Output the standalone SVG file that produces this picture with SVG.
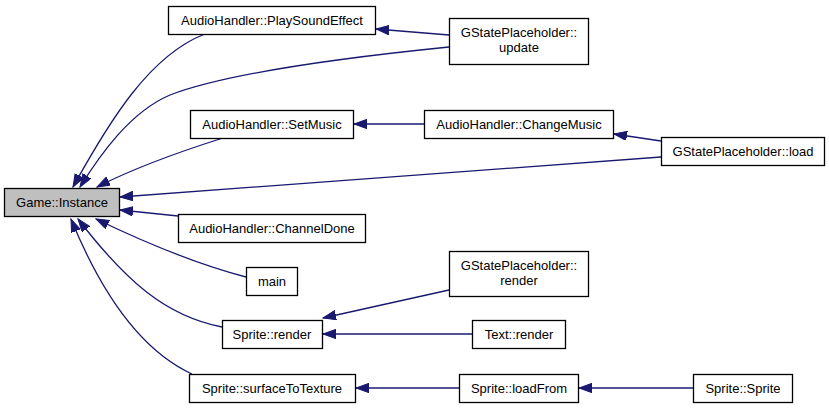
<svg xmlns="http://www.w3.org/2000/svg" width="829" height="408" viewBox="0 0 829 408">
<style>
.n rect{fill:#ffffff;stroke:#000000;stroke-width:1.3}
.n.cur rect{fill:#bfbfbf}
.n text{font-family:"Liberation Sans",Arial,sans-serif;font-size:13px;fill:#000000;text-anchor:middle}
.e path{fill:none;stroke:#191970;stroke-width:1.3;marker-end:url(#ah)}
</style>
<defs>
<marker id="ah" markerUnits="userSpaceOnUse" markerWidth="14" markerHeight="10" refX="13" refY="4.7" orient="auto" viewBox="0 0 14 10">
<path d="M0,0 L13,4.7 L0,9.4 Z" fill="#191970" stroke="#191970" stroke-width="1"/>
</marker>
</defs>
<rect width="829" height="408" fill="#ffffff"/>
<g id="edges" class="e">
<path d="M205,34 C150,55 110,120 73,187"/>
<path d="M449,47 C350,57 230,72 170,95 C130,112 100,155 80,187"/>
<path d="M449,35 L376,29"/>
<path d="M223,138 C185,150 140,165 97,187"/>
<path d="M424,124 L354,124"/>
<path d="M661,141 L614,134"/>
<path d="M661,157 L120,197"/>
<path d="M178,216 L120,210"/>
<path d="M246,277 C200,265 150,245 96,219"/>
<path d="M222,327 C165,316 125,280 78,219"/>
<path d="M192,374 C140,350 100,290 71,219"/>
<path d="M449,290 L323,318"/>
<path d="M472,334 L323,334"/>
<path d="M459,388 L356,388"/>
<path d="M693,388 L579,388"/>
</g>
<g id="game_instance" class="n cur"><rect x="4.5" y="188.5" width="115" height="28"/><text x="62" y="207">Game::Instance</text></g>
<g id="play_sound_effect" class="n"><rect x="168.5" y="6.5" width="207" height="28"/><text x="272" y="25">AudioHandler::PlaySoundEffect</text></g>
<g id="gsp_update" class="n"><rect x="449.5" y="18.5" width="139" height="46"/><text x="519" y="37">GStatePlaceholder::</text><text x="519" y="52">update</text></g>
<g id="set_music" class="n"><rect x="190.5" y="110.5" width="163" height="28"/><text x="272" y="129">AudioHandler::SetMusic</text></g>
<g id="change_music" class="n"><rect x="424.5" y="110.5" width="189" height="28"/><text x="519" y="129">AudioHandler::ChangeMusic</text></g>
<g id="gsp_load" class="n"><rect x="661.5" y="137.5" width="163" height="28"/><text x="743" y="156">GStatePlaceholder::load</text></g>
<g id="channel_done" class="n"><rect x="178.5" y="214.5" width="187" height="28"/><text x="272" y="233">AudioHandler::ChannelDone</text></g>
<g id="main" class="n"><rect x="246.5" y="267.5" width="51" height="28"/><text x="272" y="286">main</text></g>
<g id="gsp_render" class="n"><rect x="449.5" y="251.5" width="139" height="45"/><text x="519" y="270">GStatePlaceholder::</text><text x="519" y="285">render</text></g>
<g id="sprite_render" class="n"><rect x="222.5" y="320.5" width="100" height="28"/><text x="272" y="339">Sprite::render</text></g>
<g id="text_render" class="n"><rect x="472.5" y="320.5" width="93" height="28"/><text x="519" y="339">Text::render</text></g>
<g id="surface_to_texture" class="n"><rect x="189.5" y="374.5" width="166" height="28"/><text x="272" y="393">Sprite::surfaceToTexture</text></g>
<g id="load_from" class="n"><rect x="459.5" y="374.5" width="119" height="28"/><text x="519" y="393">Sprite::loadFrom</text></g>
<g id="sprite_sprite" class="n"><rect x="693.5" y="374.5" width="99" height="28"/><text x="743" y="393">Sprite::Sprite</text></g>
</svg>
